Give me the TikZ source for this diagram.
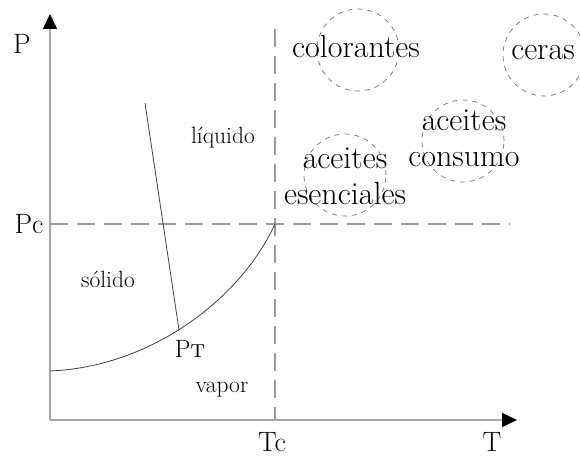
\documentclass[tikz,border=0pt]{standalone}
\usetikzlibrary{arrows.meta}
\begin{document}
\begin{tikzpicture}[x=1pt,y=-1pt,
  axisline/.style={draw=black!35,line width=1.6pt,-{Triangle[length=15pt,width=14pt,color=black]}},
  refline/.style={draw=black!40,line width=1.3pt,dash pattern=on 18pt off 9pt},
  phaseline/.style={draw=black!75,line width=0.8pt},
  zone/.style={draw=black!55,line width=0.7pt,dash pattern=on 5pt off 5pt,circle,minimum size=82pt,inner sep=0pt},
  biglab/.style={font=\fontsize{28}{30}\selectfont,inner sep=0pt},
  grp/.style={font=\fontsize{32}{36}\selectfont,inner sep=0pt,align=center},
  small/.style={font=\fontsize{23.5}{26}\selectfont,inner sep=0pt}]
\useasboundingbox (0,0) rectangle (580,457);
% coordinates
\coordinate (O) at (50,420);
\coordinate (Ytop) at (50,14);
\coordinate (Xend) at (517,420);
\coordinate (PcL) at (50,224);
\coordinate (PcR) at (510,224);
\coordinate (TcT) at (275,29);
\coordinate (TcB) at (275,420);
\coordinate (C) at (275,224);
\coordinate (S) at (50,371);
\coordinate (TP) at (179,330);
\coordinate (SL) at (145,103);
% reference dashed lines
\draw[refline] (PcL) -- (PcR);
\draw[refline] (TcT) -- (TcB);
% axes
\draw[axisline] (O) -- (Ytop);
\draw[axisline] (O) -- (Xend);
% phase lines
\draw[phaseline] (S) .. controls (150,367) and (240,300) .. (C);
\draw[phaseline] (SL) -- (TP);
% labels
\node[biglab] (lP) at (22,44) {P};
\node[biglab] (lPc) at (29,224) {Pc};
\node[biglab] (lTc) at (272,442) {Tc};
\node[biglab] (lT) at (492,442) {T};
\node[biglab] (lPT) at (190,349) {\fontsize{25}{28}\selectfont P\textsc{t}};
\node[small] (liq) at (223,138) {líquido};
\node[small] (sol) at (108,279) {sólido};
\node[small] (vap) at (222,390) {vapor};
% zones
\node[zone] (zc) at (358,50) {};
\node[grp] (tc) at (356,47) {colorantes};
\node[zone] (zr) at (544,55) {};
\node[grp] (tr) at (543,53) {ceras};
\node[zone] (zac) at (463,141) {};
\node[grp] (tac) at (464,138) {aceites\\consumo};
\node[zone] (zae) at (345,175) {};
\node[grp] (tae) at (345,176) {aceites\\esenciales};
\end{tikzpicture}
\end{document}
